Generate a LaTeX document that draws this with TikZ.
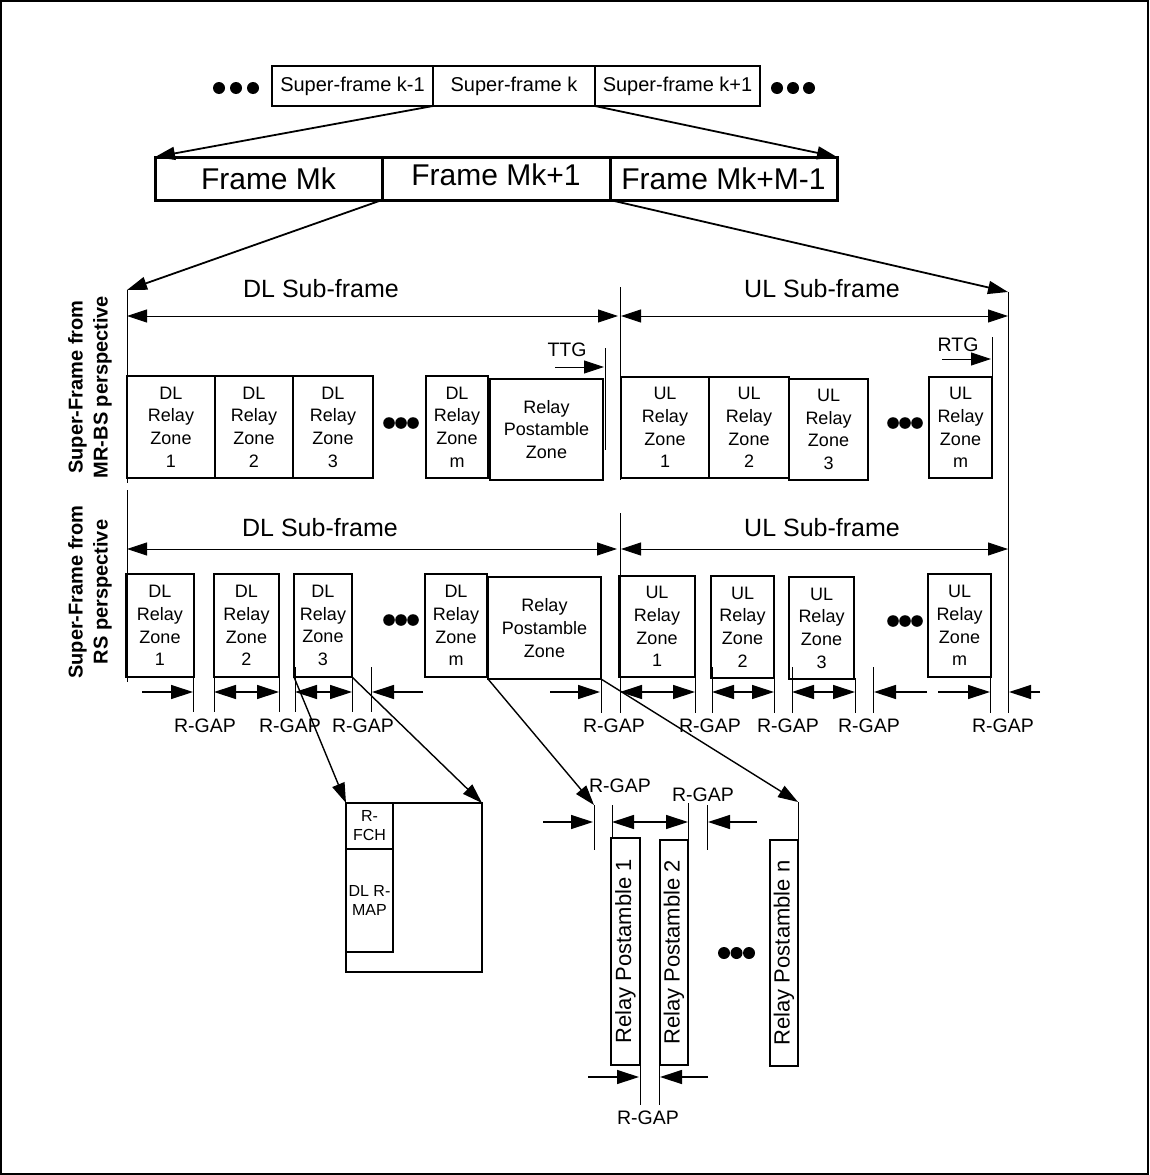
\documentclass[tikz,border=0pt]{standalone}
\usepackage{fontspec}
\setmainfont{Liberation Sans}
\usetikzlibrary{arrows.meta}
\begin{document}
\begin{tikzpicture}[x=1pt,y=-1pt,
  >={Triangle[length=20pt,width=13pt]},
  every node/.style={inner sep=0pt, outer sep=0pt},
  sfbox/.style={draw, line width=2pt, minimum height=40pt, font=\fontsize{20}{24}\selectfont},
  frbox/.style={draw, line width=3pt, minimum height=43pt, font=\fontsize{30}{36}\selectfont},
  zone/.style={draw, line width=2.6pt, align=center, font=\fontsize{18}{22.7}\selectfont},
  smallbox/.style={draw, line width=2.4pt, align=center, font=\fontsize{16}{19}\selectfont},
  pbox/.style={draw, line width=2.6pt, rotate=90, font=\fontsize{22}{26}\selectfont},
  vline/.style={line width=0.9pt},
  conn/.style={line width=1.8pt, ->},
  dimarr/.style={line width=0.9pt},
  gaparr/.style={line width=1.3pt, >={Triangle[length=22pt,width=14pt]}},
  gaplbl/.style={font=\fontsize{19.5}{23}\selectfont},
  sublbl/.style={font=\fontsize{25}{30}\selectfont},
  sidelbl/.style={rotate=90, align=center, font=\bfseries\fontsize{20}{25}\selectfont},
]
\useasboundingbox (0,0) rectangle (1149,1175);
\draw[line width=1.5pt] (1,1) rectangle (1148,1174);

% ---------- super-frames ----------
\node[sfbox, minimum width=161pt] (sf1) at (352.5,86) {Super-frame k-1};
\node[sfbox, minimum width=162pt] (sf2) at (514,86) {Super-frame k};
\node[sfbox, minimum width=165pt] (sf3) at (677.5,86) {Super-frame k+1};
\foreach \cx in {219,236,253,777,793,809} \fill (\cx,88) circle (6pt);

% ---------- frames ----------
\node[frbox, minimum width=227pt] (f1) at (268.5,178.5) {Frame Mk};
\node[frbox, minimum width=228pt] (f2) at (496,178.5) {\raisebox{4pt}[\height][\depth]{Frame Mk+1}};
\node[frbox, minimum width=227pt] (f3) at (723.5,178.5) {Frame Mk+M-1};
\draw[conn] (sf2.south west) -- (f1.north west);
\draw[conn] (sf3.south west) -- (f3.north east);

% ---------- vertical reference lines ----------
\coordinate (vLtop) at (127,290);
\coordinate (vRtop) at (1008,292);
\draw[vline] (vLtop) -- (127,483);
\draw[vline] (127,490) -- (127,682);
\draw[vline] (620,287) -- (620,480);
\draw[vline] (620,513) -- (620,713);
\draw[vline] (vRtop) -- (1008,713);
\draw[conn] (f2.south west) -- (vLtop);
\draw[conn] (f3.south west) -- (vRtop);

% ---------- side labels ----------
\node[sidelbl] (sideA) at (90,387) {Super-Frame from\\MR-BS perspective};
\node[sidelbl] (sideB) at (90,592) {Super-Frame from\\RS perspective};

% ---------- MR-BS perspective ----------
\node[sublbl] (dlA) at (321,289) {DL Sub-frame};
\node[sublbl] (ulA) at (822,289) {UL Sub-frame};
\draw[dimarr,<->] (127,316) -- (618,316);
\draw[dimarr,<->] (621,316) -- (1008,316);

\node[zone, minimum width=88pt, minimum height=102pt] (mdl1) at (171,427) {DL\\Relay\\Zone\\1};
\node[zone, minimum width=78pt, minimum height=102pt] (mdl2) at (254,427) {DL\\Relay\\Zone\\2};
\node[zone, minimum width=80pt, minimum height=102pt] (mdl3) at (333,427) {DL\\Relay\\Zone\\3};
\node[zone, minimum width=62pt, minimum height=102pt] (mdlm) at (457,427) {DL\\Relay\\Zone\\m};
\node[zone, minimum width=113pt, minimum height=101pt] (mpost) at (546.5,429.5) {Relay\\Postamble\\Zone};
\node[zone, minimum width=88pt, minimum height=101pt] (mul1) at (665,427.5) {UL\\Relay\\Zone\\1};
\node[zone, minimum width=80pt, minimum height=101pt] (mul2) at (749,427.5) {UL\\Relay\\Zone\\2};
\node[zone, minimum width=79pt, minimum height=101pt] (mul3) at (828.5,429.5) {UL\\Relay\\Zone\\3};
\node[zone, minimum width=63pt, minimum height=101pt] (mulm) at (960.5,427.5) {UL\\Relay\\Zone\\m};
\foreach \cx in {389,401,413,893,905,917} \fill (\cx,423) circle (5.8pt);

% TTG / RTG
\node[gaplbl] (ttg) at (567,350) {TTG};
\draw[vline] (605,348) -- (605,450);
\draw[dimarr,->] (555,367) -- (604,367);
\node[gaplbl] (rtg) at (958,345) {RTG};
\draw[vline] (992,337) -- (mulm.north east);
\draw[dimarr,->] (942,359) -- (991,359);

% ---------- RS perspective ----------
\node[sublbl] (dlB) at (320,528) {DL Sub-frame};
\node[sublbl] (ulB) at (822,528) {UL Sub-frame};
\draw[dimarr,<->] (127,549) -- (617,549);
\draw[dimarr,<->] (621,549) -- (1008,549);

\node[zone, minimum width=68pt, minimum height=103pt] (rdl1) at (160,625.5) {DL\\Relay\\Zone\\1};
\node[zone, minimum width=65pt, minimum height=103pt] (rdl2) at (246.5,625.5) {DL\\Relay\\Zone\\2};
\node[zone, minimum width=58pt, minimum height=103pt] (rdl3) at (323,625.5) {DL\\Relay\\Zone\\3};
\node[zone, minimum width=62pt, minimum height=103pt] (rdlm) at (456,625.5) {DL\\Relay\\Zone\\m};
\node[zone, minimum width=113pt, minimum height=102pt] (rpost) at (544.5,628) {Relay\\Postamble\\Zone};
\node[zone, minimum width=76pt, minimum height=101pt] (rul1) at (657,626.5) {UL\\Relay\\Zone\\1};
\node[zone, minimum width=63pt, minimum height=102pt] (rul2) at (742.5,627) {UL\\Relay\\Zone\\2};
\node[zone, minimum width=65pt, minimum height=102pt] (rul3) at (821.5,628) {UL\\Relay\\Zone\\3};
\node[zone, minimum width=63pt, minimum height=103pt] (rulm) at (959.5,625.5) {UL\\Relay\\Zone\\m};
\foreach \cx in {389,401,413} \fill (\cx,620) circle (5.8pt);
\foreach \cx in {893,905,917} \fill (\cx,621) circle (5.8pt);

% ---------- R-GAP row ----------
\begin{scope}[gaparr]
\draw[vline] (193,677) -- (193,712);
\draw[->] (142,692) -- (193,692);
\draw[vline] (214,678) -- (214,712);
\draw[vline] (279,677) -- (279,712);
\draw[<->] (214,692) -- (279,692);
\draw[vline] (295,667) -- (295,712);
\draw[vline] (352,677) -- (352,712);
\draw[<->] (295,692) -- (352,692);
\draw[vline] (371,667) -- (371,712);
\draw[->] (423,692) -- (372,692);
\draw[->] (550,692) -- (600,692);
\draw[vline] (601,668) -- (601,713);
\draw[<->] (620,692) -- (695,692);
\draw[vline] (695,677) -- (695,713);
\draw[vline] (712,667) -- (712,713);
\draw[vline] (774,678) -- (774,713);
\draw[<->] (712,692) -- (774,692);
\draw[vline] (792,667) -- (792,713);
\draw[vline] (855,678) -- (855,713);
\draw[<->] (792,692) -- (855,692);
\draw[vline] (873,667) -- (873,713);
\draw[->] (927,692) -- (874,692);
\draw[vline] (990,677) -- (990,713);
\draw[->] (938,692) -- (990,692);
\draw[->] (1040,692) -- (1009,692);
\end{scope}
\node[gaplbl] (g1) at (205,726) {R-GAP};
\node[gaplbl] (g2) at (290,726) {R-GAP};
\node[gaplbl] (g3) at (363,726) {R-GAP};
\node[gaplbl] (g4) at (614,726) {R-GAP};
\node[gaplbl] (g5) at (710,726) {R-GAP};
\node[gaplbl] (g6) at (788,726) {R-GAP};
\node[gaplbl] (g7) at (869,726) {R-GAP};
\node[gaplbl] (g8) at (1003,726) {R-GAP};

% ---------- detail of DL relay zone 3 ----------
\node[draw, line width=2.6pt, minimum width=136pt, minimum height=169pt] (det) at (414,887.5) {};
\node[smallbox, minimum width=47pt, minimum height=46pt] (rfch) at (369.5,826) {R-\\FCH};
\node[smallbox, minimum width=47pt, minimum height=103pt] (rmap) at (369.5,900.5) {DL R-\\MAP};
\draw[conn, line width=1.4pt] (rdl3.south west) -- (det.north west);
\draw[conn, line width=1.4pt] (rdl3.south east) -- (det.north east);

% ---------- detail of relay postamble zone ----------
\node[pbox, minimum width=227pt, minimum height=29pt] (pb1) at (625.5,951.5) {Relay Postamble 1};
\node[pbox, minimum width=225pt, minimum height=28pt] (pb2) at (674,952.5) {Relay Postamble 2};
\node[pbox, minimum width=226pt, minimum height=28pt] (pbn) at (784,953) {Relay Postamble n};
\foreach \cx in {724,736.5,749} \fill (\cx,953) circle (6pt);

\coordinate (pgapA) at (594,805);
\coordinate (pnTop) at (798,802);
\draw[conn, line width=1.4pt] (rpost.south west) -- (pgapA);
\draw[conn, line width=1.4pt] (rpost.south east) -- (pnTop);
\draw[vline] (pnTop) -- (798,840);

\begin{scope}[gaparr]
\draw[vline] (pgapA) -- (594,850);
\draw[->] (543,822) -- (593,822);
\draw[vline] (612,805) -- (612,838);
\draw[vline] (688,803) -- (688,840);
\draw[<->] (612,822) -- (688,822);
\draw[vline] (707,805) -- (707,850);
\draw[->] (757,822) -- (708,822);
\draw[vline] (640,1065) -- (640,1105);
\draw[vline] (659,1060) -- (659,1105);
\draw[->] (588,1077) -- (639,1077);
\draw[->] (708,1077) -- (660,1077);
\end{scope}
\node[gaplbl] (g9) at (620,786) {R-GAP};
\node[gaplbl] (g10) at (703,795) {R-GAP};
\node[gaplbl] (g11) at (648,1118) {R-GAP};
\end{tikzpicture}
\end{document}
